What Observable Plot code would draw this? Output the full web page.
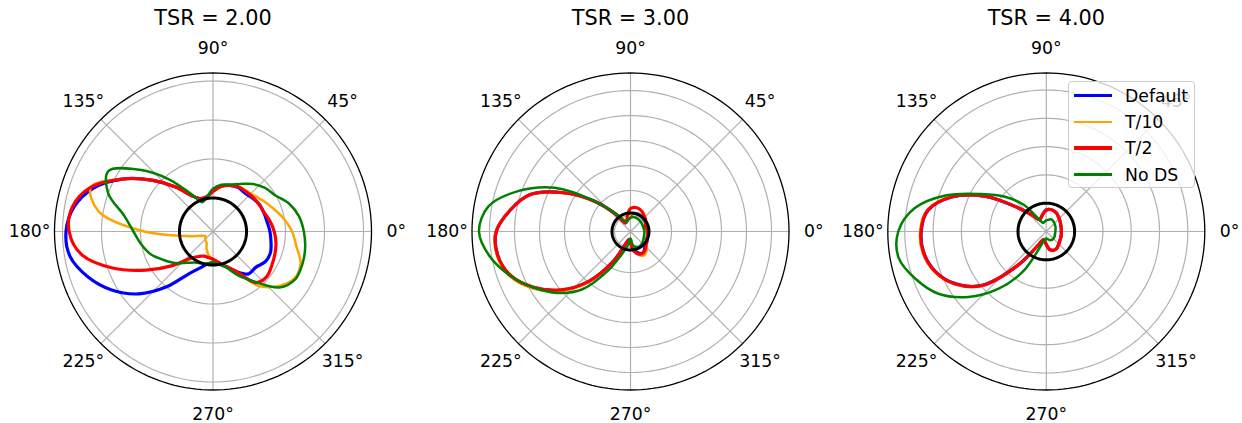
<!DOCTYPE html>
<html><head><meta charset="utf-8">
<script src="https://cdn.jsdelivr.net/npm/d3@7"></script>
<script src="https://cdn.jsdelivr.net/npm/@observablehq/plot@0.6"></script>
<style>
body{margin:0;background:#fff;font-family:"DejaVu Sans",sans-serif;}
#chart{position:relative;width:1242px;height:423px;overflow:hidden;}
.panel{position:absolute;top:0;}
.legend{position:absolute;left:1068px;top:81px;width:125px;height:105px;border:1px solid #cccccc;border-radius:4px;background:rgba(255,255,255,0.8);}
.legend .sw{position:absolute;left:5px;width:38px;}
.legend .lb{position:absolute;left:56px;font-size:17.3px;line-height:20px;color:#000;white-space:nowrap;}
</style></head><body><div id="chart"></div>
<script>
// ---- data ----
const titles = ["TSR = 2.00", "TSR = 3.00", "TSR = 4.00"];
const seriesNames = ["Default", "T/10", "T/2", "No DS"];
const seriesColors = ["#0000ff", "#ffa500", "#ff0000", "#008000"];
const seriesWidths = [3.2, 2.5, 3.2, 2.5];
const thetaTicks = [0, 45, 90, 135, 180, 225, 270, 315];
const thetaLabels = ["0°", "45°", "90°", "135°", "180°", "225°", "270°", "315°"];
const angles = [0,10,20,30,40,50,60,70,80,90,100,110,120,130,140,150,160,170,180,190,200,210,220,230,240,250,260,270,280,290,300,310,320,330,340,350];

// radial limits (rmin at centre, rmax at rim), ring ticks, turbine circle radius
const rLim1 = [-0.86, 3.205], rLim2 = [-0.64, 5.70], rLim3 = [-1.0, 4.60];
const rTicks1 = [0, 1, 2, 3], rTicks2 = [0, 1, 2, 3, 4, 5], rTicks3 = [0, 1, 2, 3, 4];
const turbine = [0, 0.1, 0];

// TSR = 2.00
const p1Default = [0.60,0.55,0.53,0.52,0.47,0.42,0.44,0.40,0.32,0.17,0.05,0.04,0.19,0.63,1.19,1.83,2.40,2.76,2.91,2.86,2.55,2.14,1.63,0.99,0.40,0.14,-0.01,-0.04,-0.01,0.09,0.32,0.56,0.57,0.69,0.71,0.65];
const p1T10     = [1.17,0.99,0.81,0.67,0.55,0.49,0.46,0.40,0.31,0.17,0.05,0.04,0.19,0.63,1.19,1.83,2.47,2.12,0.90,-0.18,-0.54,-0.63,-0.60,-0.56,-0.53,-0.38,-0.24,-0.12,-0.04,0.09,0.32,0.96,1.32,1.55,1.53,1.31];
const p1T2      = [0.71,0.63,0.54,0.51,0.49,0.47,0.46,0.40,0.31,0.17,0.05,0.04,0.19,0.63,1.19,1.83,2.47,2.80,2.83,2.56,1.88,1.12,0.50,0.04,-0.12,-0.19,-0.18,-0.15,-0.06,0.09,0.32,0.85,0.94,0.88,0.83,0.78];
const p1NoDS    = [1.47,1.38,1.22,0.99,0.88,0.73,0.55,0.42,0.36,0.24,0.04,-0.06,0.24,0.88,1.60,2.24,2.00,1.45,1.18,1.01,0.84,0.60,0.40,0.19,0.06,0.01,-0.03,-0.08,-0.01,0.12,0.45,0.83,1.37,1.58,1.58,1.54];

// TSR = 3.00
const p2Default = [0.06,0.04,0.04,0.06,0.08,0.10,0.12,0.12,0.10,0.04,-0.08,-0.20,-0.24,0.24,1.24,2.46,3.65,4.25,4.73,4.76,4.49,3.85,3.02,1.99,0.74,-0.16,-0.32,-0.20,0.08,0.28,0.36,0.24,0.14,0.10,0.08,0.06];
const p2T10     = [0.06,0.04,0.04,0.06,0.08,0.10,0.12,0.12,0.10,0.04,-0.08,-0.20,-0.24,0.24,1.24,2.46,3.65,4.26,4.75,4.79,4.53,3.90,3.06,2.03,0.76,-0.16,-0.32,-0.18,0.12,0.36,0.46,0.36,0.20,0.12,0.08,0.06];
const p2T2      = [0.06,0.02,-0.02,0.06,0.14,0.20,0.28,0.33,0.34,0.28,0.04,-0.20,-0.24,0.24,1.24,2.46,3.65,4.25,4.73,4.76,4.47,3.82,2.99,1.96,0.74,-0.16,-0.32,-0.16,0.16,0.32,0.36,0.28,0.18,0.13,0.08,0.06];
const p2NoDS    = [-0.08,-0.10,-0.10,-0.10,-0.08,-0.07,-0.06,-0.05,-0.05,-0.10,-0.16,-0.22,-0.12,0.28,1.28,2.86,4.11,5.13,5.42,5.08,4.50,3.84,3.18,2.39,1.18,0.29,-0.11,-0.36,-0.08,0.02,0.07,0.04,0.00,-0.04,-0.07,-0.08];

// TSR = 4.00
const p3Default = [-0.47,-0.46,-0.45,-0.42,-0.38,-0.33,-0.26,-0.22,-0.21,-0.24,-0.36,-0.47,-0.52,-0.26,0.31,1.48,2.56,3.25,3.42,3.39,3.16,2.70,1.96,0.55,-0.47,-0.70,-0.66,-0.54,-0.36,-0.29,-0.29,-0.35,-0.40,-0.43,-0.45,-0.46];
const p3T10     = [-0.47,-0.46,-0.45,-0.42,-0.38,-0.33,-0.26,-0.22,-0.21,-0.24,-0.36,-0.47,-0.52,-0.26,0.31,1.50,2.59,3.29,3.46,3.43,3.19,2.73,1.98,0.56,-0.47,-0.70,-0.66,-0.54,-0.36,-0.29,-0.29,-0.35,-0.40,-0.43,-0.45,-0.46];
const p3T2      = [-0.47,-0.46,-0.45,-0.42,-0.38,-0.33,-0.26,-0.22,-0.21,-0.24,-0.36,-0.47,-0.52,-0.26,0.31,1.49,2.57,3.26,3.43,3.40,3.17,2.71,1.97,0.55,-0.47,-0.70,-0.66,-0.54,-0.36,-0.29,-0.29,-0.35,-0.40,-0.43,-0.45,-0.46];
const p3NoDS    = [-0.68,-0.67,-0.65,-0.63,-0.61,-0.58,-0.55,-0.54,-0.58,-0.61,-0.65,-0.68,-0.54,0.22,0.91,1.65,2.75,3.73,4.23,4.30,3.91,3.40,2.60,1.65,0.61,-0.51,-0.73,-0.75,-0.73,-0.68,-0.65,-0.64,-0.65,-0.66,-0.68,-0.68];

// ---- layout ----
const W = 414, H = 423, R = 158.5, CY = 231;
const panels = [
  {title: titles[0], lim: rLim1, ticks: rTicks1, turb: turbine[0], cx: 212.5, left: 0,   series: [p1Default, p1T10, p1T2, p1NoDS]},
  {title: titles[1], lim: rLim2, ticks: rTicks2, turb: turbine[1], cx: 216,   left: 414, series: [p2Default, p2T10, p2T2, p2NoDS]},
  {title: titles[2], lim: rLim3, ticks: rTicks3, turb: turbine[2], cx: 217.8, left: 828, series: [p3Default, p3T10, p3T2, p3NoDS]}
];
const rad = a => a * Math.PI / 180;
const circleAngles = d3.range(0, 361, 2);

const chart = document.getElementById("chart");
panels.forEach(p => {
  const u = r => (r - p.lim[0]) / (p.lim[1] - p.lim[0]);
  const px = d => u(d.r) * Math.cos(rad(d.angle));
  const py = d => u(d.r) * Math.sin(rad(d.angle));
  const ringRows = p.ticks.flatMap(t => circleAngles.map(a => ({ring: t, r: t, angle: a})));
  const rimRows = circleAngles.map(a => ({r: p.lim[1], angle: a}));
  const turbRows = circleAngles.map(a => ({r: p.turb, angle: a}));
  const seriesMarks = seriesNames.map((name, k) =>
    Plot.line(angles.map((a, i) => ({series: name, angle: a, r: p.series[k][i]})), {
      x: px, y: py, stroke: seriesColors[k], strokeWidth: seriesWidths[k],
      curve: "catmull-rom-closed", strokeLinejoin: "round"
    }));
  const svg = Plot.plot({
    width: W, height: H, margin: 0,
    style: {fontFamily: "DejaVu Sans", background: "transparent", overflow: "visible"},
    x: {domain: [-p.cx / R, (W - p.cx) / R], axis: null},
    y: {domain: [-(H - CY) / R, CY / R], axis: null},
    marks: [
      Plot.line(ringRows, {x: px, y: py, z: "ring", stroke: "#b0b0b0", strokeWidth: 1.2}),
      Plot.link(thetaTicks, {x1: 0, y1: 0, x2: a => Math.cos(rad(a)), y2: a => Math.sin(rad(a)), stroke: "#b0b0b0", strokeWidth: 1.2}),
      Plot.line(rimRows, {x: px, y: py, stroke: "#000", strokeWidth: 1.3}),
      ...seriesMarks,
      Plot.line(turbRows, {x: px, y: py, stroke: "#000", strokeWidth: 3}),
      Plot.text(thetaTicks, {x: a => 1.157 * Math.cos(rad(a)), y: a => 1.157 * Math.sin(rad(a)), text: (a, i) => thetaLabels[i],
        fontSize: 17.3, fill: "#000", textAnchor: "middle", lineAnchor: "middle"}),
      Plot.text([p.title], {x: 0, frameAnchor: "top", dy: 18, text: d => d, fontSize: 20.8, fill: "#000", textAnchor: "middle", lineAnchor: "middle"})
    ]
  });
  const div = document.createElement("div");
  div.className = "panel";
  div.style.left = p.left + "px";
  div.appendChild(svg);
  chart.appendChild(div);
});

// legend (panel 3)
const legend = document.createElement("div");
legend.className = "legend";
const rowTops = [13.6, 40, 66, 92.6];
seriesNames.forEach((name, k) => {
  const sw = document.createElement("div");
  sw.className = "sw";
  sw.style.top = (rowTops[k] - seriesWidths[k] / 2) + "px";
  sw.style.height = seriesWidths[k] + "px";
  sw.style.background = seriesColors[k];
  legend.appendChild(sw);
  const lb = document.createElement("div");
  lb.className = "lb";
  lb.style.top = (rowTops[k] - 10) + "px";
  lb.textContent = name;
  legend.appendChild(lb);
});
chart.appendChild(legend);
</script></body></html>
